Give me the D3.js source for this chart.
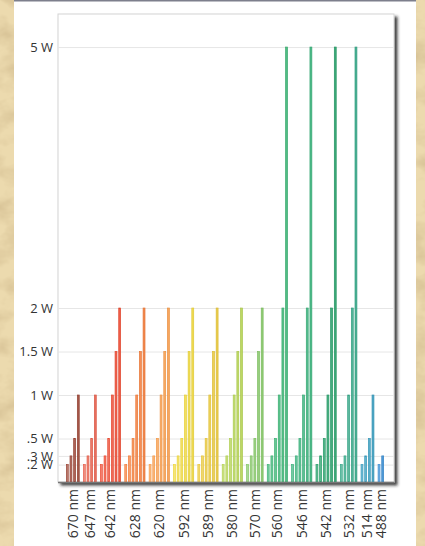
<!DOCTYPE html>
<html>
<head>
<meta charset="utf-8">
<script src="https://cdn.jsdelivr.net/npm/d3@7"></script>
<style>
  html, body { margin: 0; padding: 0; background: #e8d4a6; }
  svg { display: block; }
  text { font-family: "Open Sans", sans-serif; fill: #333; }
</style>
</head>
<body>
<script>
// Laser lines (nm) and the power levels (W) offered for each
const wavelengths = ["670", "647", "642", "628", "620", "592", "589", "580", "570", "560", "546", "542", "532", "514", "488"];
const powers = [
  [0.2, 0.3, 0.5, 1],
  [0.2, 0.3, 0.5, 1],
  [0.2, 0.3, 0.5, 1, 1.5, 2],
  [0.2, 0.3, 0.5, 1, 1.5, 2],
  [0.2, 0.3, 0.5, 1, 1.5, 2],
  [0.2, 0.3, 0.5, 1, 1.5, 2],
  [0.2, 0.3, 0.5, 1, 1.5, 2],
  [0.2, 0.3, 0.5, 1, 1.5, 2],
  [0.2, 0.3, 0.5, 1.5, 2],
  [0.2, 0.3, 0.5, 1, 2, 5],
  [0.2, 0.3, 0.5, 1, 2, 5],
  [0.2, 0.3, 0.5, 1, 2, 5],
  [0.2, 0.3, 1, 2, 5],
  [0.2, 0.3, 0.5, 1],
  [0.2, 0.3]
];
const lineColors = ["#9c4536", "#e8604c", "#ee4b33", "#f47d3a", "#f89c4a", "#efd83c", "#e9c83a", "#b5d452", "#84c766", "#3db676", "#3ab27c", "#27a06a", "#36a888", "#3a9ec0", "#3b8fd4"];
const yTicks = [0.2, 0.3, 0.5, 1, 1.5, 2, 5];
const yTickLabels = [".2 W", ".3 W", ".5 W", "1 W", "1.5 W", "2 W", "5 W"];

const w = 425;
const h = 546;
const plot = {left: 58, top: 14, right: 394, bottom: 482};
const yMax = 5.38;
const gapSlots = 0.65; // extra space between wavelength groups

// Flatten into one list of bars, each with a slot position
const bars = [];
const groups = [];
let slot = 0;
wavelengths.forEach((wl, gi) => {
  const start = slot;
  powers[gi].forEach((p, i) => {
    bars.push({wl, power: p, slot, group: gi, rank: i, n: powers[gi].length});
    slot += 1;
  });
  groups.push({wl, center: (start + slot - 1) / 2});
  slot += gapSlots;
});
const lastSlot = slot - gapSlots - 1;

const x = d3.scaleLinear()
  .domain([0, lastSlot])
  .range([67.3, 382.7]);

const y = d3.scaleLinear()
  .domain([0, yMax])
  .range([plot.bottom, plot.top]);

const svg = d3.select("body")
  .append("svg")
  .attr("width", w)
  .attr("height", h);

const defs = svg.append("defs");

// parchment texture
const paper = defs.append("filter").attr("id", "paper")
  .attr("x", 0).attr("y", 0).attr("width", "100%").attr("height", "100%");
paper.append("feTurbulence")
  .attr("type", "fractalNoise")
  .attr("baseFrequency", "0.03 0.045")
  .attr("numOctaves", 4)
  .attr("seed", 7);
paper.append("feColorMatrix")
  .attr("type", "matrix")
  .attr("values", "0 0 0 0 0.62  0 0 0 0 0.48  0 0 0 0 0.26  0 0 0 1.5 -0.6");

const shadow = defs.append("filter").attr("id", "shadow")
  .attr("x", "-5%").attr("y", "-5%").attr("width", "115%").attr("height", "115%");
shadow.append("feDropShadow")
  .attr("dx", 3).attr("dy", 3)
  .attr("stdDeviation", 1.4)
  .attr("flood-color", "#222")
  .attr("flood-opacity", 0.85);

svg.append("rect")
  .attr("width", w).attr("height", h)
  .attr("fill", "#ecdaae");
svg.append("rect")
  .attr("width", w).attr("height", h)
  .attr("filter", "url(#paper)");

// white card
svg.append("rect")
  .attr("x", 14).attr("y", 0)
  .attr("width", 402).attr("height", h)
  .attr("fill", "#fff");
svg.append("rect")
  .attr("x", 14).attr("y", 0)
  .attr("width", 402).attr("height", 1.5)
  .attr("fill", "#7d7f8c");

// plot frame with shadow
svg.append("rect")
  .attr("x", plot.left).attr("y", plot.top)
  .attr("width", plot.right - plot.left)
  .attr("height", plot.bottom - plot.top)
  .attr("fill", "#fff")
  .attr("stroke", "#d4d4d4")
  .attr("stroke-width", 1)
  .attr("filter", "url(#shadow)");

// gridlines
svg.append("g")
  .attr("transform", `translate(${plot.left},0)`)
  .call(d3.axisLeft(y).tickValues(yTicks).tickSize(-(plot.right - plot.left)).tickFormat(""))
  .call(g => g.select(".domain").remove())
  .call(g => g.selectAll("line").attr("stroke", "#e6e6e6"));

// y labels
svg.append("g")
  .attr("transform", `translate(${plot.left},0)`)
  .call(d3.axisLeft(y).tickValues(yTicks).tickSize(0).tickPadding(5)
    .tickFormat((d, i) => yTickLabels[i]))
  .call(g => g.select(".domain").remove())
  .call(g => g.selectAll("text").attr("font-size", 13).attr("fill", "#333")
    .style("font-family", "'Open Sans', sans-serif"));

// bars
const barW = 1.9;
svg.append("g")
  .selectAll("rect")
  .data(bars)
  .enter()
  .append("rect")
  .attr("x", d => x(d.slot) - barW / 2)
  .attr("y", d => y(d.power))
  .attr("width", barW)
  .attr("height", d => y(0) - y(d.power))
  .attr("fill", d => {
    const t = d.n > 1 ? d.rank / (d.n - 1) : 1;
    return d3.interpolateRgb("#fff", lineColors[d.group])(0.7 + 0.2 * t);
  })
  .attr("stroke", d => {
    const t = d.n > 1 ? d.rank / (d.n - 1) : 1;
    return d3.color(lineColors[d.group]).darker(0.2 * t);
  })
  .attr("stroke-width", 0.7);

// baseline
svg.append("line")
  .attr("x1", plot.left).attr("x2", plot.right)
  .attr("y1", plot.bottom + 0.5).attr("y2", plot.bottom + 0.5)
  .attr("stroke", "#777")
  .attr("stroke-width", 1.5);

// x labels
svg.append("g")
  .selectAll("text")
  .data(groups)
  .enter()
  .append("text")
  .attr("transform", d => `translate(${x(d.center)},${plot.bottom + 7}) rotate(-90)`)
  .attr("text-anchor", "end")
  .attr("dy", "0.35em")
  .attr("font-size", 14)
  .text(d => d.wl + " nm");
</script>
</body>
</html>
